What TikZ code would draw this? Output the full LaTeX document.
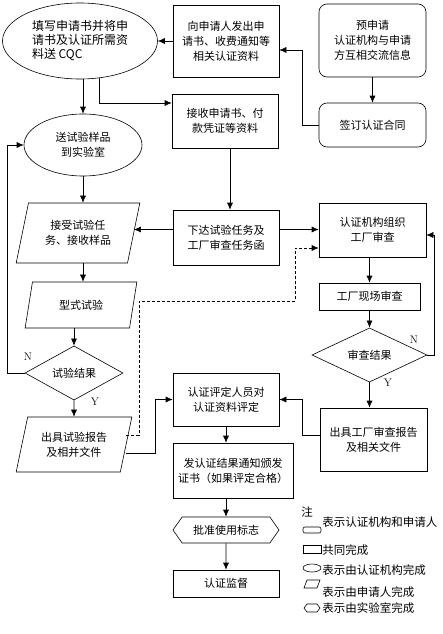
\documentclass[tikz,border=0pt]{standalone}
\usepackage{fontspec}
\newfontfamily\cjk{Noto Sans CJK SC}
\usetikzlibrary{shapes.geometric,shapes.symbols,arrows.meta}
\tikzset{sz/.style 2 args={minimum width=#1pt, minimum height=#2pt}}

\begin{document}
\begin{tikzpicture}[
        x=1pt, y=-1pt,
        every node/.style={font=\cjk\fontsize{11}{15}\selectfont, align=center, inner sep=0pt},
        box/.style={draw, rectangle},
        rbox/.style={draw, rectangle, rounded corners=8pt},
        oval/.style={draw, ellipse},
        para/.style={draw, trapezium, trapezium left angle=72, trapezium right angle=108, trapezium stretches=true},
        test/.style={draw, diamond},
        hexa/.style={draw, signal, signal to=east and west, signal pointer angle=110},
        yn/.style={font=\fontsize{11}{13}\selectfont},
        key/.style={anchor=west, font=\cjk\fontsize{11.5}{14}\selectfont},
        every path/.append style={semithick},
        >={Latex[length=7pt,width=6pt]}
    ]
        \useasboundingbox (0,0) rectangle (442,634);

        \node [oval, sz={155}{76}, font=\cjk\fontsize{12}{14}\selectfont, align=left] (apply) at (80,41) {填写申请书并将申\\请书及认证所需资\\料送 CQC};
        \node [box, sz={106}{72}] (issue) at (226,41) {向申请人发出申\\请书、收费通知等\\相关认证资料};
        \node [rbox, sz={107}{73}] (pre) at (372.5,40.5) {预申请\\认证机构与申请\\方互相交流信息};
        \node [rbox, sz={107}{44}] (contract) at (372.5,125) {签订认证合同};
        \node [oval, sz={118}{62}] (send) at (83,145) {送试验样品\\到实验室};
        \node [box, sz={106}{54}] (receive) at (225,121) {接收申请书、付\\款凭证等资料};
        \node [box, sz={106}{55}] (task) at (226,237.5) {下达试验任务及\\工厂审查任务函};
        \node [para, sz={124}{60}] (accept) at (78,233) {接受试验任\\务、接收样品};
        \node [para, sz={112}{46}] (type) at (81,305) {型式试验};
        \node [test, sz={98}{52}] (tres) at (74,373) {试验结果};
        \node [para, sz={116}{55}] (treport) at (74,444.5) {出具试验报告\\及相并文件};
        \node [box, sz={107}{54}] (org) at (372.5,230) {认证机构组织\\工厂审查};
        \node [box, sz={101}{27}] (site) at (369.5,296.5) {工厂现场审查};
        \node [test, sz={115}{36}] (fres) at (369.5,355) {审查结果};
        \node [box, sz={107}{63}] (freport) at (373.5,439.5) {出具工厂审查报告\\及相关文件};
        \node [box, sz={106}{53}] (eval) at (226,399.5) {认证评定人员对\\认证资料评定};
        \node [box, sz={120}{55}] (cert) at (233,470.5) {发认证结果通知颁发\\证书（如果评定合格）};
        \node [hexa, sz={106}{26}] (mark) at (226,530) {批准使用标志};
        \node [box, sz={106}{27}] (watch) at (226,583.5) {认证监督};

        \draw [->] (pre) -- (contract);
        \draw [->] (contract.west) -- ++(-16,0) |- ([yshift=-9pt]issue.east);
        \draw [->] (issue) -- (apply);
        \draw [->] (apply.south -| send.north) -- (send.north);
        \draw [->] (apply.-63) |- ([yshift=18pt]receive.west);
        \draw [->] ([xshift=5pt]receive.south) -- ([xshift=5pt]receive.south |- task.north);
        \draw [->] ([yshift=8pt]task.west) -- ([yshift=8pt]task.west -| accept.east);
        \draw [->] ([yshift=8pt]task.east) -- ([yshift=8pt]task.east -| org.west);
        \draw [->] (send.south) -- (send.south |- accept.north);
        \draw [->] (send.south |- accept.south) -- (send.south |- type.north);
        \draw [->] (tres.north |- type.south) -- (tres.north);
        \draw [->] (tres.south) -- (treport.north);
        \draw [->] (tres.west) -- ++(-17,0) |- (send.west);
        \draw [->, dash pattern=on 3pt off 2pt] ([yshift=9.5pt]treport.east) -| (139,301) -| ([xshift=-23pt,yshift=-18pt]org.west) -- ([yshift=-18pt]org.west);
        \draw [->] ([yshift=-8.5pt]treport.east) -| ([xshift=-17pt]eval.west) -- (eval.west);
        \draw [->] (org.south -| site.north) -- (site.north);
        \draw [->] (site) -- (fres);
        \draw [->] (fres.east) -- ++(7,0) |- ([yshift=-5pt]org.east);
        \draw [->] (fres.south) -- (fres.south |- freport.north);
        \draw [->] ([yshift=4.5pt]freport.west) -- ++(-17,0) |- (eval.east);
        \draw [->] (eval.south) -- (eval.south |- cert.north);
        \draw [->] (eval.south |- cert.south) -- (mark.north);
        \draw [->] (mark) -- (watch);

        \node [yn] (n1) at (28,357) {N};
        \node [yn] (y1) at (95,402) {Y};
        \node [yn] (n2) at (414,340) {N};
        \node [yn] (y2) at (388,383) {Y};

        \node [key] (note) at (301,512) {注};
        \draw [rounded corners=2pt] (303,527) rectangle (321,533);
        \node [key] (t1) at (322,522) {表示认证机构和申请人};
        \draw (303,545) rectangle (321,553);
        \node [key] (t2) at (322,550) {共同完成};
        \draw (312,568) ellipse [x radius=9, y radius=4];
        \node [key] (t3) at (322,570) {表示由认证机构完成};
        \draw (304,588) -- (307,580) -- (320,580) -- (317,588) -- cycle;
        \node [key] (t4) at (322,592) {表示由申请人完成};
        \draw (304,608) -- (307,604) -- (317,604) -- (320,608) -- (317,612) -- (307,612) -- cycle;
        \node [key] (t5) at (322,608) {表示由实验室完成};
    \end{tikzpicture}
\end{document}
